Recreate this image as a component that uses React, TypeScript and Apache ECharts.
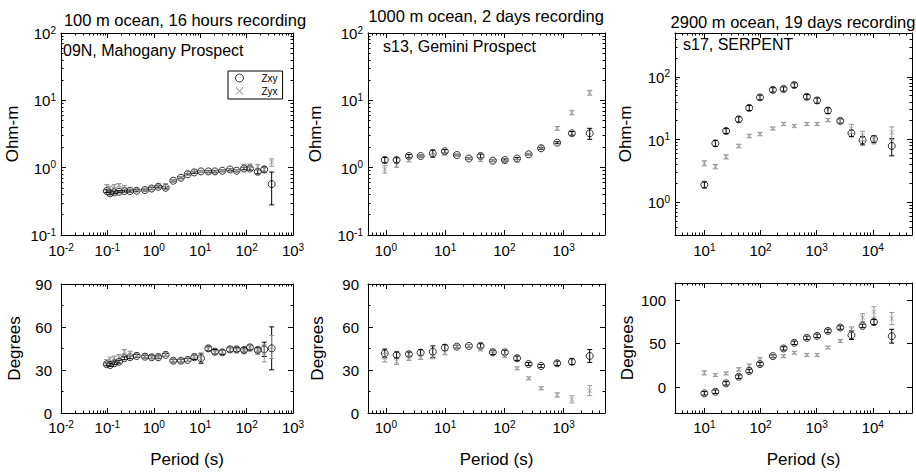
import { useEffect, useRef } from 'react';
import * as echarts from 'echarts';

// ---------- Panel 1: 09N, Mahogany Prospect (100 m ocean) ----------
const p1Period = [0.097, 0.114, 0.141, 0.178, 0.232, 0.307, 0.428, 0.646, 0.9, 1.25, 1.8, 2.63, 3.85, 5.37, 7.46, 10.4, 15, 20.8, 30, 43.9, 61, 88, 118, 174, 240, 347];
const p1RhoXY = [0.449, 0.415, 0.43, 0.439, 0.449, 0.449, 0.454, 0.465, 0.49, 0.52, 0.503, 0.64, 0.71, 0.8, 0.85, 0.88, 0.88, 0.88, 0.9, 0.94, 0.9, 0.97, 0.97, 0.87, 0.94, 0.57];
const p1RhoXYErr = [0.02, 0.02, 0.02, 0.015, 0.015, 0.015, 0.015, 0.015, 0.02, 0.02, 0.02, 0.02, 0.02, 0.02, 0.025, 0.025, 0.03, 0.03, 0.03, 0.03, 0.03, 0.04, 0.05, 0.06, 0.08, 0.29];
const p1RhoYX = [0.53, 0.5, 0.53, 0.55, 0.52, 0.49, 0.475, 0.475, 0.5, 0.55, 0.55, 0.64, 0.71, 0.84, 0.9, 0.88, 0.86, 0.86, 0.9, 0.92, 0.9, 1.07, 1.07, 1.03, 0.95, 1.2];
const p1RhoYXErr = [0.03, 0.03, 0.03, 0.03, 0.02, 0.02, 0.02, 0.02, 0.02, 0.02, 0.03, 0.03, 0.03, 0.03, 0.03, 0.03, 0.03, 0.03, 0.03, 0.04, 0.04, 0.05, 0.06, 0.09, 0.1, 0.15];
const p1PhaseXY = [34.0, 33.5, 34.7, 35.8, 38.2, 38.9, 39.8, 39.3, 38.9, 38.9, 40.5, 36.5, 36.5, 37.0, 38.9, 38.2, 45.1, 42.8, 42.3, 44.4, 44.4, 44.0, 45.8, 44.0, 44.4, 45.1];
const p1PhaseXYErr = [1, 1, 1, 1, 1, 1, 1, 1, 1, 1, 1, 1, 1, 1, 1.5, 3.5, 1.5, 1.5, 1.5, 1.5, 1.5, 1.5, 1.5, 1.5, 5, 15];
const p1PhaseYX = [35.8, 37.5, 38.2, 39.3, 42.8, 41.6, 40.5, 39.8, 39.3, 39.8, 41.0, 36.5, 36.5, 37.4, 39.8, 38.2, 44.4, 42.0, 42.8, 44.0, 43.5, 42.8, 45.1, 42.8, 41.6, 46.0];
const p1PhaseYXErr = [1.5, 1.5, 1.5, 1.5, 1.5, 1.5, 1.5, 1.5, 1.5, 1.5, 1.5, 1.5, 1.5, 1.5, 1.5, 3, 1.5, 1.5, 1.5, 1.5, 1.5, 1.5, 2, 2, 6, 8];

// ---------- Panel 2: s13, Gemini Prospect (1000 m ocean) ----------
const p2Period = [0.96, 1.52, 2.45, 3.87, 6.2, 9.9, 15.8, 25.2, 39.7, 64, 102, 164, 257, 417, 780, 1380, 2760];
const p2RhoXY = [1.3, 1.3, 1.49, 1.49, 1.63, 1.75, 1.54, 1.37, 1.49, 1.27, 1.3, 1.37, 1.58, 1.94, 2.35, 3.24, 3.24];
const p2RhoXYErr = [0.12, 0.1, 0.08, 0.05, 0.2, 0.1, 0.04, 0.04, 0.1, 0.04, 0.05, 0.05, 0.04, 0.06, 0.08, 0.2, 0.6];
const p2RhoYX = [0.95, 1.09, 1.3, 1.45, 1.54, 1.6, 1.54, 1.37, 1.3, 1.27, 1.22, 1.27, 1.58, 2.04, 3.84, 6.6, 13];
const p2RhoYXErr = [0.12, 0.08, 0.08, 0.05, 0.05, 0.05, 0.04, 0.04, 0.06, 0.04, 0.05, 0.06, 0.05, 0.1, 0.25, 0.5, 1.1];
const p2PhaseXY = [41.6, 40.5, 41.0, 42.1, 42.8, 45.6, 46.3, 46.8, 46.8, 42.3, 42.3, 38.2, 34.2, 32.8, 34.7, 35.8, 39.8];
const p2PhaseXYErr = [3, 2, 1.5, 2, 4, 2, 1, 1, 1.5, 1.5, 1.5, 1.5, 1, 1, 1.5, 2, 4.5];
const p2PhaseYX = [38.6, 35.8, 38.2, 38.9, 39.3, 42.1, 46.3, 46.8, 44.4, 43.5, 39.8, 31.2, 24.2, 17.2, 12.6, 9.5, 15.6];
const p2PhaseYXErr = [3, 2, 1.5, 1.5, 1.5, 1.5, 1, 1, 1, 1, 1, 1, 1, 1, 1.5, 2.5, 3.5];

// ---------- Panel 3: s17, SERPENT (2900 m ocean) ----------
const p3Period = [10, 15.7, 24.4, 41, 63, 98, 166, 258, 400, 670, 1020, 1590, 2640, 4170, 6580, 10500, 21800];
const p3RhoXY = [1.9, 8.7, 13.7, 21, 32, 47, 62, 64, 74, 48, 42, 29, 19.8, 12.6, 9.7, 10.2, 7.9];
const p3RhoXYErr = [0.2, 0.9, 1.2, 2, 3, 4, 5, 5, 6, 4, 4, 3, 1.5, 1.5, 1.5, 1.3, 2.4];
const p3RhoYX = [4.2, 3.7, 5.3, 7.9, 11.4, 12.2, 15, 17.7, 16.5, 17.7, 17.7, 20.4, 19.8, 15, 11.5, 10, 12.9];
const p3RhoYXErr = [0.4, 0.3, 0.4, 0.5, 0.7, 0.7, 0.8, 0.9, 0.8, 0.9, 0.9, 1.2, 1.2, 2.5, 2, 1.5, 3];
const p3PhaseXY = [-7.3, -5.4, 4.2, 11.9, 18.4, 26.4, 35.6, 44.5, 51, 56.7, 59, 64.7, 68.6, 59.8, 70.5, 75, 58.6];
const p3PhaseXYErr = [2, 2, 2, 2, 2, 2, 1.5, 2, 2, 2, 2, 2, 2, 5, 2, 3, 8];
const p3PhaseYX = [16.4, 13.8, 15.7, 20.3, 24.5, 31.8, 34.8, 35.6, 39.4, 36.8, 36.8, 45.6, 53.2, 66.3, 80.1, 86.6, 79];
const p3PhaseYXErr = [2.5, 1.5, 1.5, 2, 2, 2, 1.5, 1.5, 1.5, 1.5, 1.5, 1.5, 1.5, 3, 4.5, 6, 7];

// ---------- Texts ----------
const panelTitles = ['100 m ocean, 16 hours recording', '1000 m ocean, 2 days recording', '2900 m ocean, 19 days recording'];
const siteNames = ['09N, Mahogany Prospect', 's13, Gemini Prospect', 's17, SERPENT'];
const seriesNames = ['Zxy', 'Zyx'];
const rhoAxisName = 'Ohm-m';
const phaseAxisName = 'Degrees';
const periodAxisName = 'Period (s)';

// axis ranges
const periodRanges = [[0.01, 1000], [0.5, 5000], [3, 50000]];
const rhoRanges = [[0.1, 100], [0.1, 100], [0.3, 500]];
const phaseRanges = [[0, 90], [0, 90], [-30, 120]];
const phaseTicks = [[0, 30, 60, 90], [0, 30, 60, 90], [0, 50, 100]];

// ---------- Layout ----------
const FONT = '"Liberation Sans", Arial, Helvetica, sans-serif';
const BLACK = '#000';
const GREY = '#959595';
const CROSS = 'path://M0,1L1,0L5,4L9,0L10,1L6,5L10,9L9,10L5,6L1,10L0,9L4,5Z';

const gridBoxes = [
  { left: 61, top: 33, width: 232, height: 202 },
  { left: 368, top: 33, width: 237, height: 202 },
  { left: 675, top: 33, width: 237, height: 202 },
  { left: 61, top: 284, width: 232, height: 129 },
  { left: 368, top: 284, width: 237, height: 129 },
  { left: 675, top: 283, width: 237, height: 130 },
];
const yNameGaps = [40, 44, 41];
const titlePos = [[185, 19.5], [486, 16], [793, 22]];
const sitePos = [[63, 50.5], [383, 46], [683, 44]];

const richLabel = {
  b: { fontSize: 15, fontFamily: FONT, color: BLACK, lineHeight: 16, verticalAlign: 'bottom' },
  s: { fontSize: 10, fontFamily: FONT, color: BLACK, lineHeight: 10, padding: [0, 0, 10, 0], verticalAlign: 'top' },
};

function logLabel(v: number): string {
  const l = Math.log10(v);
  const e = Math.round(l);
  if (Math.abs(l - e) > 1e-6) return '';
  return `{b|10}{s|${e}}`;
}

function errorSeries(name: string, data: number[][], color: string, xi: number, yi: number) {
  return {
    type: 'custom',
    name,
    xAxisIndex: xi,
    yAxisIndex: yi,
    silent: true,
    clip: true,
    encode: { x: 0, y: [1, 2] },
    data,
    z: 2,
    renderItem: (_params: any, api: any) => {
      const x = api.value(0);
      const a = api.coord([x, api.value(1)]);
      const b = api.coord([x, api.value(2)]);
      const w = 2.5;
      const st = { stroke: color, lineWidth: 1, fill: 'none' };
      return {
        type: 'group',
        children: [
          { type: 'line', shape: { x1: a[0], y1: a[1], x2: b[0], y2: b[1] }, style: st },
          { type: 'line', shape: { x1: a[0] - w, y1: a[1], x2: a[0] + w, y2: a[1] }, style: st },
          { type: 'line', shape: { x1: b[0] - w, y1: b[1], x2: b[0] + w, y2: b[1] }, style: st },
        ],
      };
    },
  };
}

function buildOption() {
  const panels = [
    { period: p1Period, rXY: p1RhoXY, rXYe: p1RhoXYErr, rYX: p1RhoYX, rYXe: p1RhoYXErr, pXY: p1PhaseXY, pXYe: p1PhaseXYErr, pYX: p1PhaseYX, pYXe: p1PhaseYXErr },
    { period: p2Period, rXY: p2RhoXY, rXYe: p2RhoXYErr, rYX: p2RhoYX, rYXe: p2RhoYXErr, pXY: p2PhaseXY, pXYe: p2PhaseXYErr, pYX: p2PhaseYX, pYXe: p2PhaseYXErr },
    { period: p3Period, rXY: p3RhoXY, rXYe: p3RhoXYErr, rYX: p3RhoYX, rYXe: p3RhoYXErr, pXY: p3PhaseXY, pXYe: p3PhaseXYErr, pYX: p3PhaseYX, pYXe: p3PhaseYXErr },
  ];

  const grid: any[] = gridBoxes.map((b) => ({ ...b, containLabel: false, outerBoundsMode: 'none', show: false }));
  const xAxis: any[] = [];
  const yAxis: any[] = [];
  const series: any[] = [];

  const lineStyle = { color: BLACK, width: 1 };

  for (let g = 0; g < 6; g++) {
    const col = g % 3;
    const isTop = g < 3;
    const [xmin, xmax] = periodRanges[col];
    const xBase = {
      type: 'log', logBase: 10, min: xmin, max: xmax, gridIndex: g,
      axisLine: { show: true, onZero: false, lineStyle },
      axisTick: { show: true, inside: true, length: 5, lineStyle },
      minorTick: { show: true, splitNumber: 9, length: 2.5, lineStyle: { color: BLACK, width: 1 } },
      splitLine: { show: false },
      minorSplitLine: { show: false },
    };
    xAxis.push({
      ...xBase,
      position: 'bottom',
      axisLabel: { show: true, margin: isTop ? 7 : 6, formatter: logLabel, rich: richLabel, showMinLabel: true, showMaxLabel: true, hideOverlap: false },
      name: isTop ? '' : periodAxisName,
      nameLocation: 'middle',
      nameGap: 38,
      nameTextStyle: { fontSize: 17, fontFamily: FONT, color: BLACK, padding: [0, 0, 0, 20] },
    });
    xAxis.push({ ...xBase, position: 'top', axisLabel: { show: false } });

    let yBase: any;
    if (isTop) {
      const [ymin, ymax] = rhoRanges[col];
      yBase = {
        type: 'log', logBase: 10, min: ymin, max: ymax, gridIndex: g,
        axisLine: { show: true, onZero: false, lineStyle },
        axisTick: { show: true, inside: true, length: 5, lineStyle },
        minorTick: { show: true, splitNumber: 9, length: 2.5, lineStyle: { color: BLACK, width: 1 } },
        splitLine: { show: false },
        minorSplitLine: { show: false },
      };
      yAxis.push({
        ...yBase,
        position: 'left',
        axisLabel: { show: true, margin: 5, formatter: logLabel, rich: richLabel, showMinLabel: true, showMaxLabel: true, hideOverlap: false },
        name: rhoAxisName,
        nameLocation: 'middle',
        nameGap: yNameGaps[col],
        nameRotate: 90,
        nameTextStyle: { fontSize: 17, fontFamily: FONT, color: BLACK },
      });
    } else {
      const [ymin, ymax] = phaseRanges[col];
      const ticks = phaseTicks[col];
      yBase = {
        type: 'value', min: ymin, max: ymax, gridIndex: g,
        axisLine: { show: true, onZero: false, lineStyle },
        axisTick: { show: true, inside: true, length: 5, lineStyle, customValues: ticks },
        splitLine: { show: false },
      };
      if (col < 2) {
        yBase.interval = 30;
        yBase.minorTick = { show: true, splitNumber: 2, length: 2.5, lineStyle: { color: BLACK, width: 1 } };
      }
      yAxis.push({
        ...yBase,
        position: 'left',
        axisLabel: { show: true, margin: 9, fontSize: 15, fontFamily: FONT, color: BLACK, customValues: ticks, showMinLabel: true, showMaxLabel: true },
        name: phaseAxisName,
        nameLocation: 'middle',
        nameGap: yNameGaps[col] - 2,
        nameRotate: 90,
        nameTextStyle: { fontSize: 17, fontFamily: FONT, color: BLACK },
      });
    }
    yAxis.push({ ...yBase, position: 'right', axisLabel: { show: false }, name: '' });

    const p = panels[col];
    const xi = 2 * g;
    const yi = 2 * g;
    const vXY = isTop ? p.rXY : p.pXY;
    const eXY = isTop ? p.rXYe : p.pXYe;
    const vYX = isTop ? p.rYX : p.pYX;
    const eYX = isTop ? p.rYXe : p.pYXe;

    series.push(errorSeries('ZxyErr', p.period.map((t, i) => [t, vXY[i] - eXY[i], vXY[i] + eXY[i]]), BLACK, xi, yi));
    series.push({
      type: 'scatter', name: seriesNames[0], xAxisIndex: xi, yAxisIndex: yi,
      symbol: 'circle', symbolSize: 7, z: 3,
      itemStyle: { color: 'rgba(255,255,255,0)', borderColor: BLACK, borderWidth: 1 },
      data: p.period.map((t, i) => [t, vXY[i]]),
    });
    series.push(errorSeries('ZyxErr', p.period.map((t, i) => [t, vYX[i] - eYX[i], vYX[i] + eYX[i]]), GREY, xi, yi));
    series.push({
      type: 'scatter', name: seriesNames[1], xAxisIndex: xi, yAxisIndex: yi,
      symbol: CROSS, symbolSize: 5, z: 4,
      itemStyle: { color: GREY },
      data: p.period.map((t, i) => [t, vYX[i]]),
    });
  }

  const graphic: any[] = [];
  panelTitles.forEach((t, i) => {
    graphic.push({
      type: 'text', x: titlePos[i][0], y: titlePos[i][1], silent: true,
      style: { text: t, fontSize: 16.5, fontFamily: FONT, fill: BLACK, align: 'center', verticalAlign: 'middle', textAlign: 'center', textVerticalAlign: 'middle' },
    });
  });
  siteNames.forEach((t, i) => {
    graphic.push({
      type: 'text', x: sitePos[i][0], y: sitePos[i][1], silent: true,
      style: { text: t, fontSize: 16, fontFamily: FONT, fill: BLACK, align: 'left', verticalAlign: 'middle', textAlign: 'left', textVerticalAlign: 'middle' },
    });
  });

  return {
    animation: false,
    backgroundColor: '#fff',
    textStyle: { fontFamily: FONT },
    grid,
    xAxis,
    yAxis,
    series,
    graphic,
    legend: {
      data: [
        { name: seriesNames[0], icon: 'circle', itemStyle: { color: 'rgba(255,255,255,0)', borderColor: BLACK, borderWidth: 1 } },
        { name: seriesNames[1], icon: CROSS, itemStyle: { color: GREY } },
      ],
      orient: 'vertical',
      left: 228,
      top: 71,
      itemWidth: 8,
      itemHeight: 8,
      itemGap: 3,
      padding: [2, 5, 3, 7],
      borderColor: BLACK,
      borderWidth: 1,
      backgroundColor: '#fff',
      selectedMode: false,
      textStyle: { fontSize: 10, fontFamily: FONT, color: BLACK, lineHeight: 10, padding: [0, 0, 0, 13] },
    },
  };
}

export default function App() {
  const ref = useRef<HTMLDivElement>(null);
  useEffect(() => {
    if (!ref.current) return;
    const chart = echarts.init(ref.current, null, { renderer: 'svg' });
    chart.setOption(buildOption() as any);
    return () => chart.dispose();
  }, []);
  return <div ref={ref} style={{ position: 'fixed', left: 0, top: 0, width: 916, height: 474, background: '#fff' }} />;
}
